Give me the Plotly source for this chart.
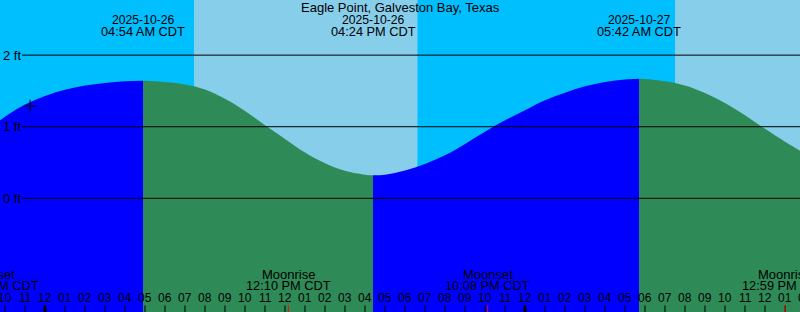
import plotly.graph_objects as go
from datetime import datetime, timedelta

# ---------------- data ----------------
station = "Eagle Point, Galveston Bay, Texas"

tide_times = [
    "2025-10-25 21:45", "2025-10-25 22:00", "2025-10-25 23:00",
    "2025-10-26 00:00", "2025-10-26 01:00", "2025-10-26 02:00", "2025-10-26 03:00",
    "2025-10-26 04:00", "2025-10-26 04:54", "2025-10-26 06:00", "2025-10-26 07:00",
    "2025-10-26 08:00", "2025-10-26 09:00", "2025-10-26 10:00", "2025-10-26 11:00",
    "2025-10-26 12:00", "2025-10-26 13:00", "2025-10-26 14:00", "2025-10-26 15:00",
    "2025-10-26 16:00", "2025-10-26 16:24", "2025-10-26 17:00", "2025-10-26 18:00",
    "2025-10-26 19:00", "2025-10-26 20:00", "2025-10-26 21:00", "2025-10-26 22:00",
    "2025-10-26 23:00", "2025-10-27 00:00", "2025-10-27 01:00", "2025-10-27 02:00",
    "2025-10-27 03:00", "2025-10-27 04:00", "2025-10-27 05:00", "2025-10-27 05:42",
    "2025-10-27 06:00", "2025-10-27 07:00", "2025-10-27 08:00", "2025-10-27 09:00",
    "2025-10-27 10:00", "2025-10-27 11:00", "2025-10-27 12:00", "2025-10-27 13:00",
    "2025-10-27 13:45",
]
tide_ft = [
    1.09, 1.14, 1.31,
    1.43, 1.515, 1.575, 1.612,
    1.635, 1.642, 1.625, 1.59,
    1.52, 1.39, 1.22, 1.02,
    0.83, 0.64, 0.49, 0.385,
    0.33, 0.321, 0.33, 0.39,
    0.48, 0.60, 0.76, 0.93,
    1.09, 1.23, 1.37, 1.475,
    1.565, 1.625, 1.66, 1.670,
    1.668, 1.635, 1.575, 1.47,
    1.33, 1.16, 0.97, 0.79,
    0.665,
]

extreme_times = ["2025-10-26 04:54", "2025-10-26 16:24", "2025-10-27 05:42"]
extreme_dates = ["2025-10-26", "2025-10-26", "2025-10-27"]
extreme_clock = ["04:54 AM CDT", "04:24 PM CDT", "05:42 AM CDT"]

sun_events = ["2025-10-26 07:27", "2025-10-26 18:38", "2025-10-27 07:30"]  # rise, set, rise

moon_names = ["Moonset", "Moonrise", "Moonset", "Moonrise"]
moon_times = ["2025-10-25 21:15", "2025-10-26 12:10", "2025-10-26 22:08", "2025-10-27 12:59"]
moon_clock = ["09:15 PM CDT", "12:10 PM CDT", "10:08 PM CDT", "12:59 PM CDT"]

now_time = "2025-10-25 23:15"
now_ft = 1.29

level_ticks = [0, 1, 2]
level_text = ["0 ft", "1 ft", "2 ft"]

x_start = "2025-10-25 21:45"
x_end = "2025-10-27 13:45"
y_range = [-1.588, 2.770]

# ---------------- style ----------------
W, H = 800, 312
NIGHT = "#00BFFF"
DAY = "#87CEEB"
RISE = "#0000FF"
FALL = "#2E8B57"
FAM = "Liberation Sans, Arial, sans-serif"

def font(size):
    return dict(family=FAM, size=size, color="black")

def py(pixel_y):
    return 1 - pixel_y / H

fmt = "%Y-%m-%d %H:%M"
tt = [datetime.strptime(t, fmt) for t in tide_times]
t0 = datetime.strptime(x_start, fmt)
t1 = datetime.strptime(x_end, fmt)

def xpaper(t):
    t = datetime.strptime(t, fmt) if isinstance(t, str) else t
    return (t - t0).total_seconds() / (t1 - t0).total_seconds()

fig = go.Figure()

# tide fill segments, split at the extremes
cut = [0] + [tide_times.index(e) for e in extreme_times] + [len(tide_times) - 1]
for k in range(len(cut) - 1):
    a, b = cut[k], cut[k + 1]
    xs = tt[a:b + 1]
    ys = tide_ft[a:b + 1]
    color = RISE if ys[-1] > ys[0] else FALL
    fig.add_trace(go.Scatter(x=xs, y=[y_range[0] - 1] * len(xs), mode="lines",
                             line=dict(width=0), hoverinfo="skip", showlegend=False))
    fig.add_trace(go.Scatter(x=xs, y=ys, mode="lines", line=dict(width=0, shape="spline", smoothing=1.0),
                             fill="tonexty", fillcolor=color, hoverinfo="skip", showlegend=False))

# now marker
fig.add_trace(go.Scatter(x=[now_time], y=[now_ft], mode="markers",
                         marker=dict(symbol="cross-thin", size=9, line=dict(width=1, color="black")),
                         hoverinfo="skip", showlegend=False))

shapes = []
# day / night backgrounds
bounds = [x_start] + sun_events + [x_end]
for i in range(len(bounds) - 1):
    shapes.append(dict(type="rect", xref="x", yref="paper", x0=bounds[i], x1=bounds[i + 1],
                       y0=0, y1=1, fillcolor=NIGHT if i % 2 == 0 else DAY,
                       line=dict(width=0), layer="below"))

# level lines
for v in level_ticks:
    shapes.append(dict(type="line", xref="paper", yref="y", x0=22 / W, x1=1, y0=v, y1=v,
                       line=dict(color="black", width=1), layer="above"))

# hour ticks + labels
annotations = []
h = t0.replace(minute=0) + timedelta(hours=1)
while h <= t1 + timedelta(hours=1):
    midnight = h.hour == 0
    shapes.append(dict(type="line", xref="x", yref="paper", x0=h, x1=h, y0=0, y1=6.5 / H,
                       line=dict(color="black", width=3 if midnight else 1), layer="above"))
    annotations.append(dict(x=xpaper(h), y=py(298), xref="paper", yref="paper", text=h.strftime("%I"),
                            showarrow=False, xanchor="center", yanchor="middle", font=font(12)))
    h += timedelta(hours=1)

# moon events
for i, (name, t, c) in enumerate(zip(moon_names, moon_times, moon_clock)):
    shapes.append(dict(type="line", xref="x", yref="paper", x0=t, x1=t, y0=0, y1=6.5 / H,
                       line=dict(color="red", width=1), layer="above"))
    annotations.append(dict(x=xpaper(t), y=py(274), xref="paper", yref="paper", text=name, showarrow=False,
                            xanchor="center", yanchor="middle", font=font(13)))
    annotations.append(dict(x=xpaper(t), y=py(285.5), xref="paper", yref="paper", text=c, showarrow=False,
                            xanchor="center", yanchor="middle", font=font(12.8),
                            xshift=6 if i == 0 else 0))

# tide extremes labels
for t, d, c in zip(extreme_times, extreme_dates, extreme_clock):
    annotations.append(dict(x=t, y=py(19.5), xref="x", yref="paper", text=d, showarrow=False,
                            xanchor="center", yanchor="middle", font=font(12.2)))
    annotations.append(dict(x=t, y=py(31.2), xref="x", yref="paper", text=c, showarrow=False,
                            xanchor="center", yanchor="middle", font=font(12.8)))

# title
annotations.append(dict(x=0.5, y=py(7.7), xref="paper", yref="paper", text=station,
                        showarrow=False, xanchor="center", yanchor="middle", font=font(13)))

# level labels
for v, s in zip(level_ticks, level_text):
    annotations.append(dict(x=0.5 / W, y=v, xref="paper", yref="y", text=s, showarrow=False,
                            xanchor="left", yanchor="middle", font=font(13)))

fig.update_layout(
    width=W, height=H, margin=dict(l=0, r=0, t=0, b=0),
    paper_bgcolor=NIGHT, plot_bgcolor=NIGHT,
    xaxis=dict(type="date", range=[x_start, x_end], visible=False, fixedrange=True),
    yaxis=dict(range=y_range, visible=False, fixedrange=True),
    shapes=shapes, annotations=annotations, showlegend=False,
)

fig.write_html("out.html", config={"displayModeBar": False})
